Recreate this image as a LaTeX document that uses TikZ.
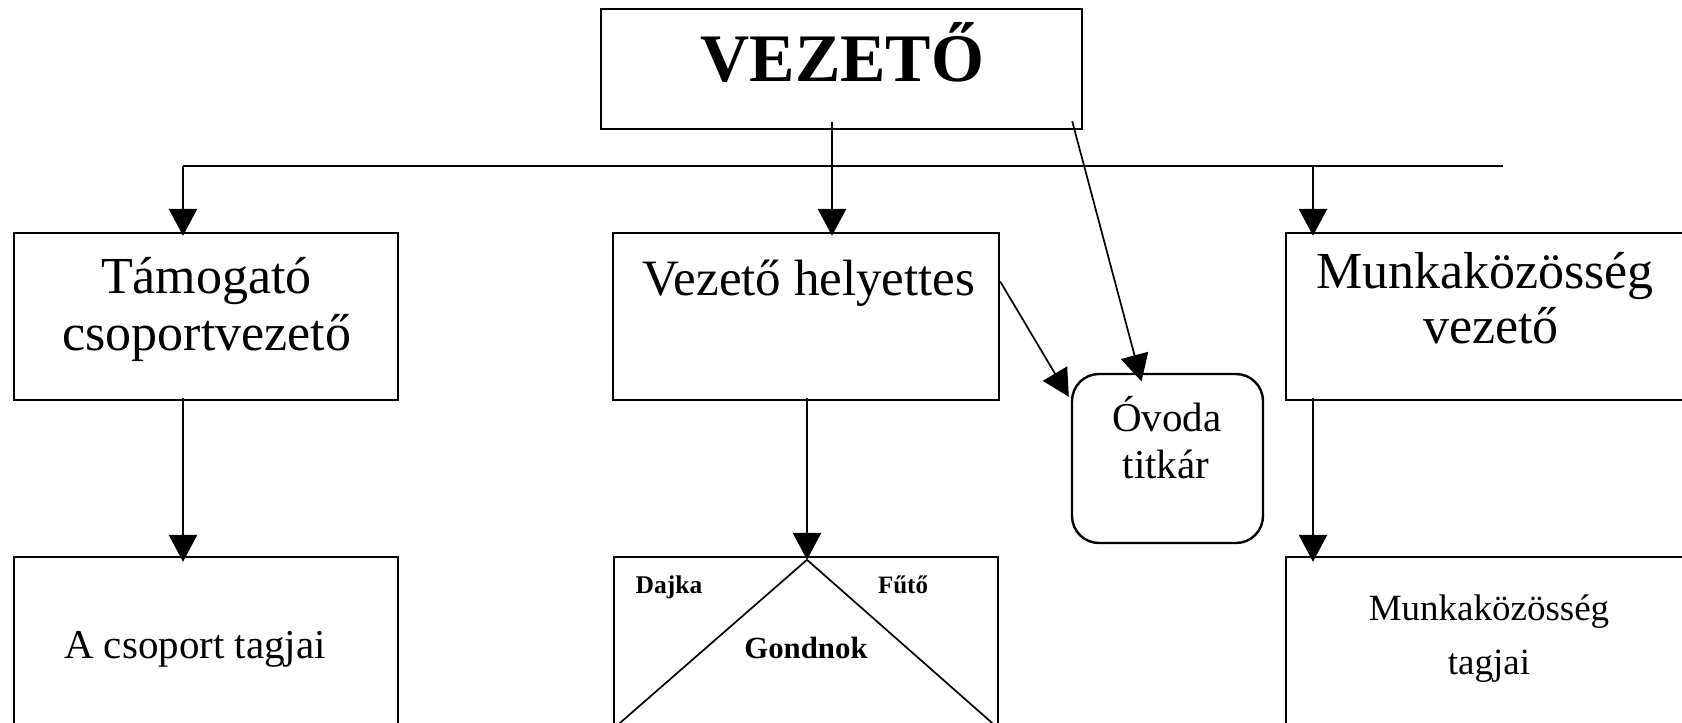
\documentclass[tikz,border=0pt]{standalone}
\usepackage{fontspec}
\setmainfont{Liberation Serif}
\usetikzlibrary{arrows.meta,fit,calc}
\newcommand\setfs[1]{\fontsize{#1}{#1}\selectfont}
\begin{document}
\begin{tikzpicture}[x=1pt,y=-1pt,
  box/.style={draw,line width=2.4pt,inner sep=0pt},
  conn/.style={line width=2.4pt},
  arr/.style={line width=2.8pt,-{Triangle[length=27pt,width=28pt]}},
  thinarr/.style={line width=1.7pt,-{Triangle[length=27pt,width=28pt]}},
  thinline/.style={line width=1.7pt},
  lbl/.style={inner sep=0pt,anchor=base},
]
\useasboundingbox (0,0) rectangle (1682,723);

% boxes
\node[box,fit={(601,9) (1082,129)}] (vez) {};
\node[box,fit={(14,233) (398,400)}] (tam) {};
\node[box,fit={(613,233) (999,400)}] (hely) {};
\node[box,fit={(1286,233) (1692,400)}] (mkv) {};
\node[box,fit={(14,557) (398,745)}] (csop) {};
\node[box,fit={(614,557) (998,728)}] (gond) {};
\node[box,fit={(1286,557) (1692,745)}] (mkt) {};
\node[box,rounded corners=27pt,fit={(1072,374) (1263,543)}] (ovoda) {};

% texts
\node[lbl,font=\bfseries\setfs{68pt}] (t-vez) at (842.5,81.7) {VEZETŐ};
\node[lbl,font=\setfs{52pt}] (t-tam1) at (206.5,293) {Támogató};
\node[lbl,font=\setfs{52pt}] (t-tam2) at (207,350) {csoportvezető};
\node[lbl,font=\setfs{51pt}] (t-hely) at (809,295) {Vezető helyettes};
\node[lbl,font=\setfs{52pt}] (t-mkv1) at (1485,288) {Munkaközösség};
\node[lbl,font=\setfs{52pt}] (t-mkv2) at (1491,343.3) {vezető};
\node[lbl,font=\setfs{41pt}] (t-csop) at (195,658) {A csoport tagjai};
\node[lbl,font=\setfs{41pt}] (t-ov1) at (1166.7,431.7) {Óvoda};
\node[lbl,font=\setfs{41pt}] (t-ov2) at (1166,478.3) {titkár};
\node[lbl,font=\setfs{37pt}] (t-mkt1) at (1489,620) {Munkaközösség};
\node[lbl,font=\setfs{37pt}] (t-mkt2) at (1489,674) {tagjai};
\node[lbl,font=\bfseries\setfs{25.5pt}] (t-dajka) at (669,593.3) {Dajka};
\node[lbl,font=\bfseries\setfs{25pt}] (t-futo) at (903,593.3) {Fűtő};
\node[lbl,font=\bfseries\setfs{30.8pt}] (t-gond) at (806,658.3) {Gondnok};

% distribution line
\coordinate (bus-l) at (183,165.7);
\coordinate (bus-m) at (1313,165.7);
\coordinate (bus-r) at (1503,165.7);
\draw[conn] (bus-l) -- (bus-r);

% connectors
\draw[arr] (bus-l) -- ($(bus-l |- tam.north)+(0,4)$);
\draw[arr] ($(vez.south)+(-9.5,-8)$) -- ($(hely.north)+(26,4)$);
\draw[arr] (bus-m) -- ($(bus-m |- mkv.north)+(0,4)$);
\draw[arr] ($(bus-l |- tam.south)+(0,-3)$) -- ($(bus-l |- csop.north)+(0,6)$);
\draw[arr] ($(hely.south)+(1,-3)$) -- ($(gond.north)+(1,4)$);
\draw[arr] ($(bus-m |- mkv.south)+(0,-3)$) -- ($(bus-m |- mkt.north)+(0,6)$);
\draw[thinarr] ($(hely.east)+(0,-35)$) -- ($(ovoda.north west)+(-2,24)$);
\draw[thinarr] ($(vez.south east)+(-11,-9)$) -- ($(ovoda.north)+(-26,8.7)$);

% Gondnok box partition
\draw[thinline] ($(gond.north)+(1,4)$) -- (gond.south west);
\draw[thinline] ($(gond.north)+(1,4)$) -- (gond.south east);
\end{tikzpicture}
\end{document}
